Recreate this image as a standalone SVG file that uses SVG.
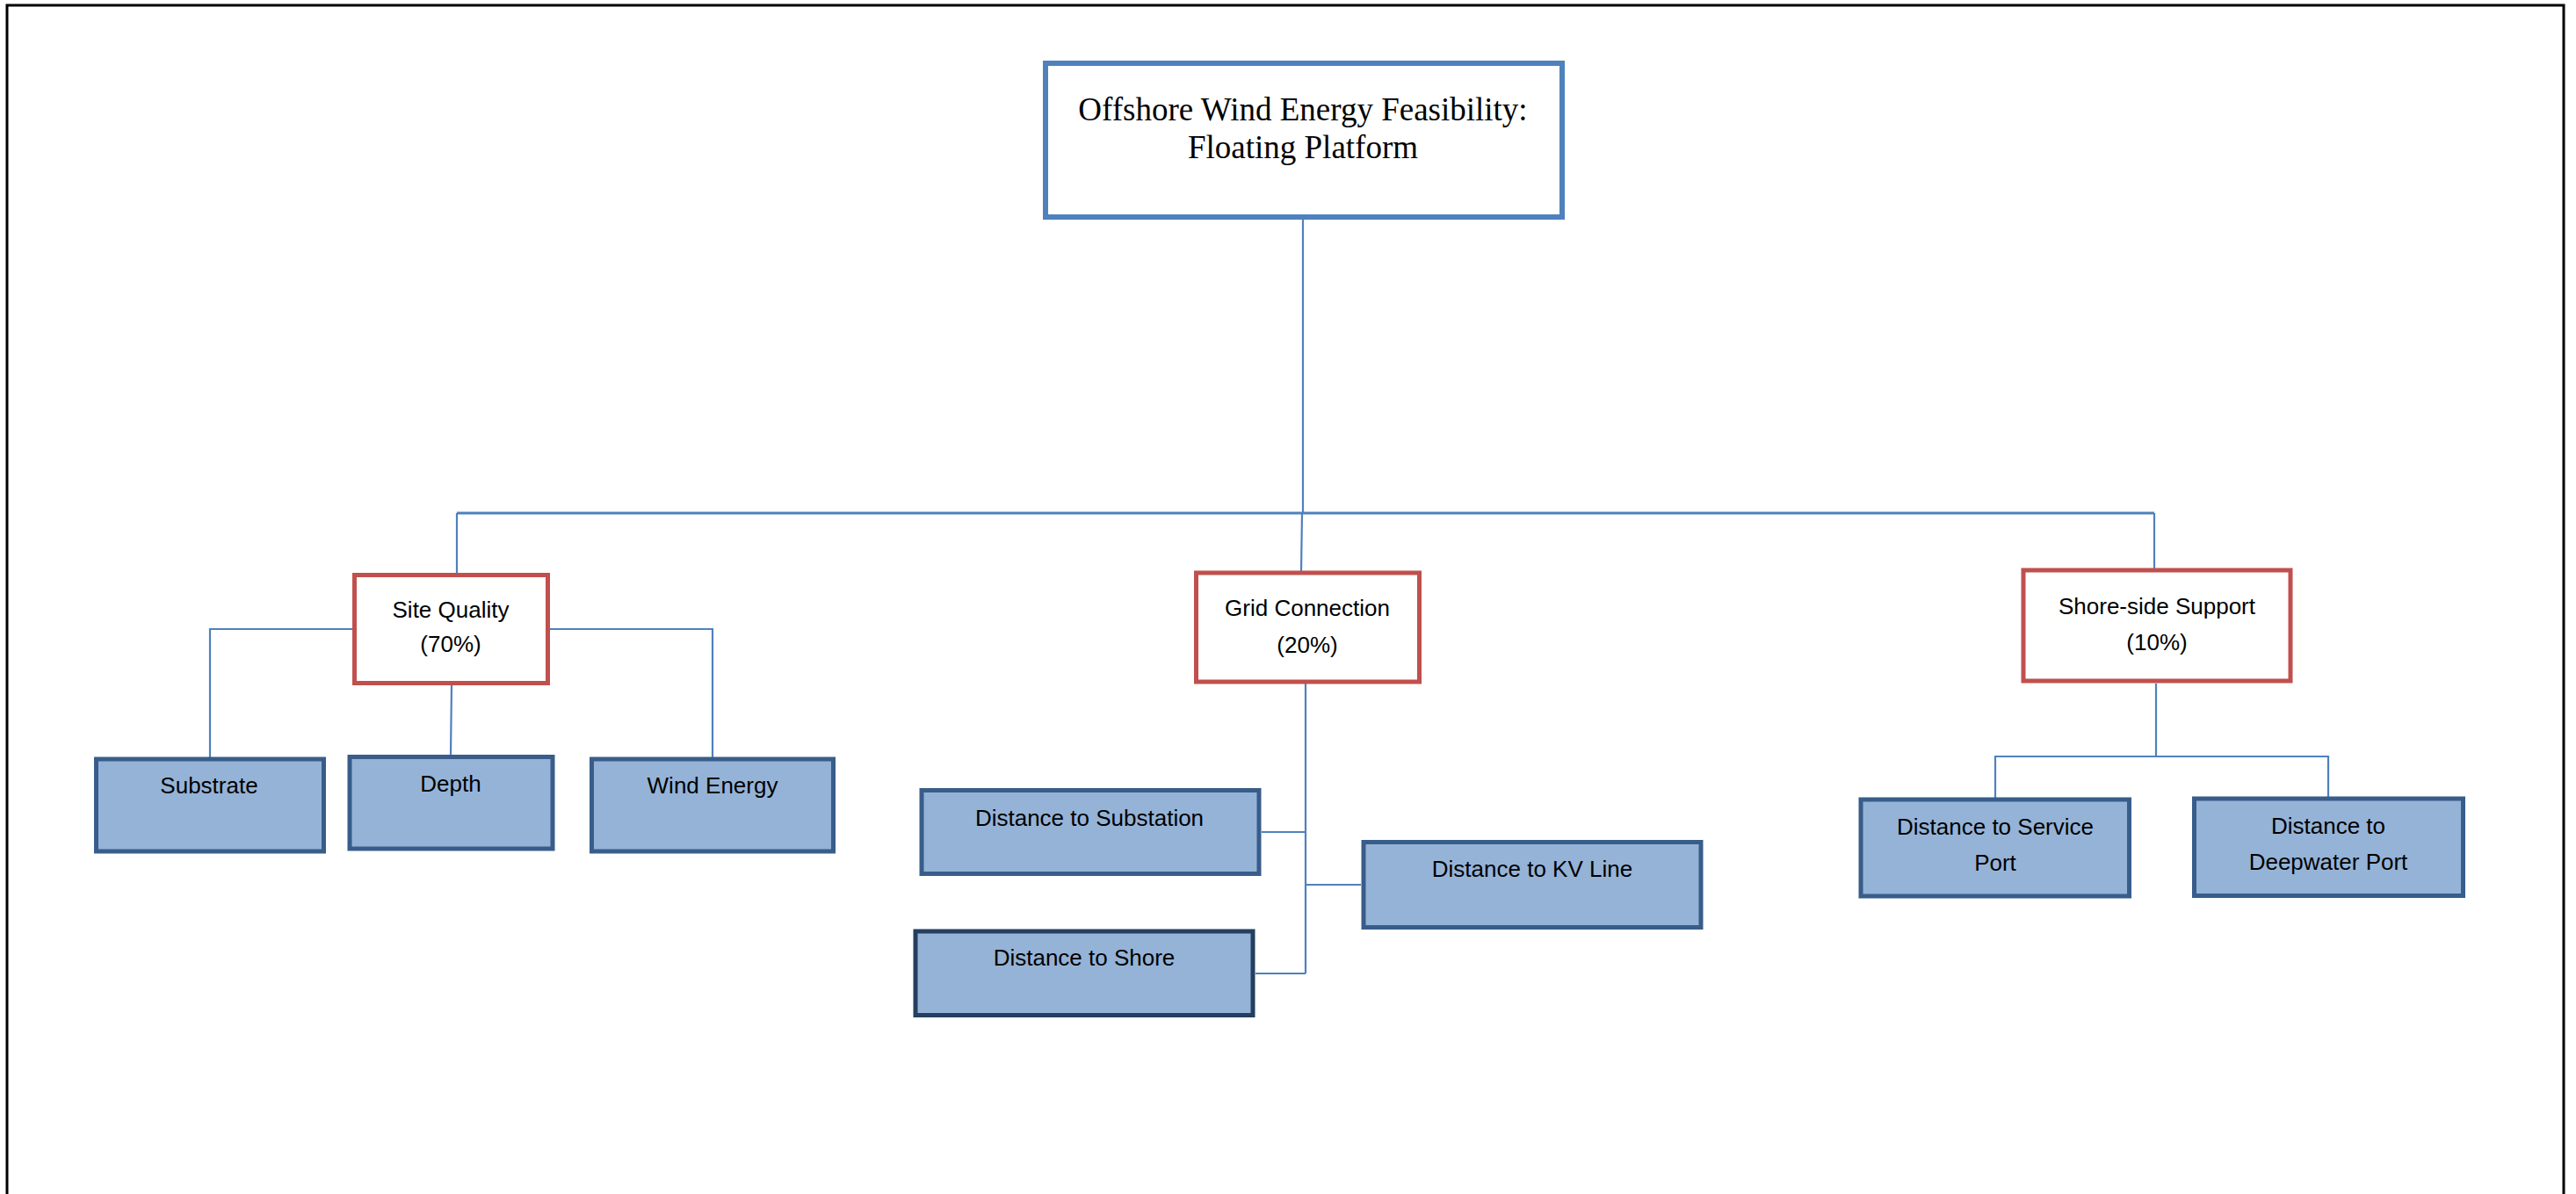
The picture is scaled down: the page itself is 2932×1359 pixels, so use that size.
<svg xmlns="http://www.w3.org/2000/svg" width="2932" height="1359" viewBox="0 0 2932 1359">
<style>
.conn{fill:none;stroke:#4F81BD;stroke-width:2.2}
.root{fill:#fff;stroke:#4F81BD;stroke-width:6}
.cat{fill:#fff;stroke:#C0504D;stroke-width:5}
.leaf{fill:#95B3D7;stroke:#385D8A;stroke-width:5}
.leafd{fill:#95B3D7;stroke:#243F60;stroke-width:5}
.t{font-family:"Liberation Sans",Arial,sans-serif;font-size:26px;fill:#000;text-anchor:middle}
.tt{font-family:"Liberation Serif","Times New Roman",serif;font-size:37px;fill:#000;text-anchor:middle}
</style>
<rect width="2932" height="1359" fill="#fff"/>
<path d="M8,1359 V6 H2918 V1359" fill="none" stroke="#000" stroke-width="3"/>
<g id="connectors">
<path class="conn" d="M1483,250 V584"/>
<path class="conn" d="M520,584 H2452" style="stroke-width:3"/>
<path class="conn" d="M520,584 V652"/>
<path class="conn" d="M1482,584 L1481,650"/>
<path class="conn" d="M2452,584 V647"/>
<path class="conn" d="M401,716 H239 V862"/>
<path class="conn" d="M626,716 H811 V862"/>
<path class="conn" d="M514,780 L513,859"/>
<path class="conn" d="M1486,778 V1108"/>
<path class="conn" d="M1436,947 H1486"/>
<path class="conn" d="M1486,1007 H1549"/>
<path class="conn" d="M1429,1108 H1486"/>
<path class="conn" d="M2454,778 V861"/>
<path class="conn" d="M2271,908 V861 H2650 V907"/>
</g>
<g id="root">
<rect class="root" x="1190" y="72" width="588" height="175"/>
<text class="tt" x="1483" y="137">Offshore Wind Energy Feasibility:</text>
<text class="tt" x="1483" y="180">Floating Platform</text>
</g>
<g id="site-quality">
<rect class="cat" x="403.5" y="654.5" width="220" height="123"/>
<text class="t" x="513" y="703">Site Quality</text>
<text class="t" x="513" y="742">(70%)</text>
</g>
<g id="grid-connection">
<rect class="cat" x="1361.5" y="652" width="254" height="124"/>
<text class="t" x="1488" y="701">Grid Connection</text>
<text class="t" x="1488" y="743">(20%)</text>
</g>
<g id="shore-side-support">
<rect class="cat" x="2303" y="649" width="304" height="126"/>
<text class="t" x="2455" y="699">Shore-side Support</text>
<text class="t" x="2455" y="740">(10%)</text>
</g>
<g id="substrate">
<rect class="leaf" x="109.5" y="864" width="259" height="105"/>
<text class="t" x="238" y="903">Substrate</text>
</g>
<g id="depth">
<rect class="leaf" x="398" y="861.5" width="231" height="104.5"/>
<text class="t" x="513" y="901">Depth</text>
</g>
<g id="wind-energy">
<rect class="leaf" x="673.5" y="864" width="275" height="105"/>
<text class="t" x="811" y="903">Wind Energy</text>
</g>
<g id="distance-substation">
<rect class="leaf" x="1049" y="899.5" width="384" height="95"/>
<text class="t" x="1240" y="940">Distance to Substation</text>
</g>
<g id="distance-kv-line">
<rect class="leaf" x="1552" y="958.5" width="384" height="97"/>
<text class="t" x="1744" y="998">Distance to KV Line</text>
</g>
<g id="distance-shore">
<rect class="leafd" x="1042" y="1060" width="384" height="95.5"/>
<text class="t" x="1234" y="1099">Distance to Shore</text>
</g>
<g id="distance-service-port">
<rect class="leaf" x="2118" y="910" width="305.5" height="110"/>
<text class="t" x="2271" y="950">Distance to Service</text>
<text class="t" x="2271" y="991">Port</text>
</g>
<g id="distance-deepwater-port">
<rect class="leaf" x="2497.5" y="909" width="306" height="110.5"/>
<text class="t" x="2650" y="949">Distance to</text>
<text class="t" x="2650" y="990">Deepwater Port</text>
</g>
</svg>
